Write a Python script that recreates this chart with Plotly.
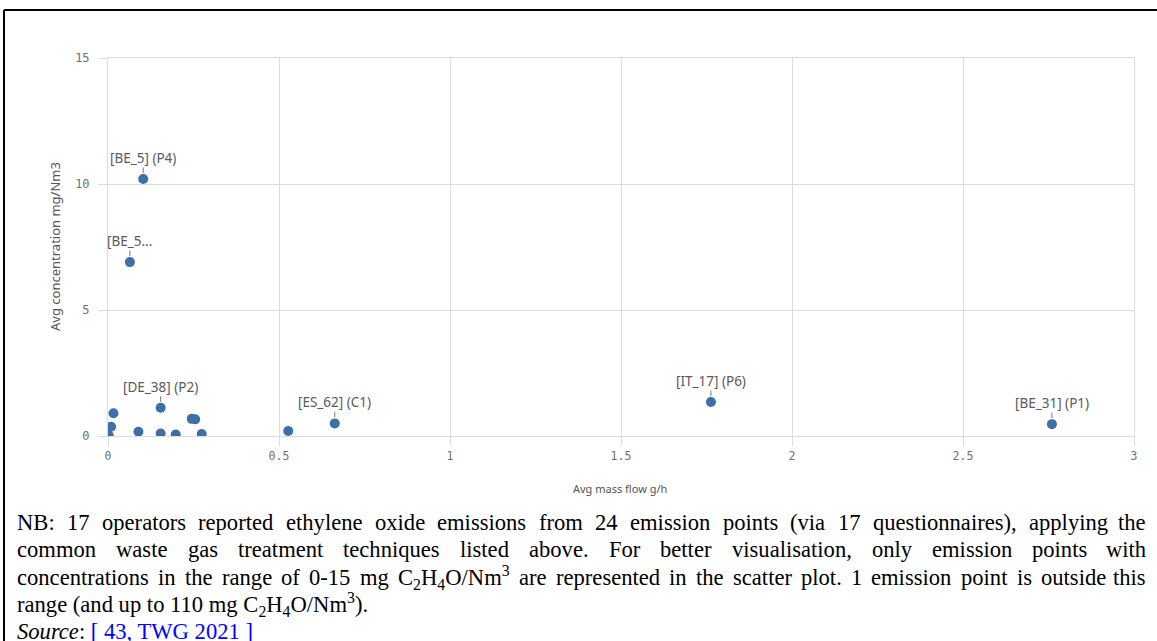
import re
import plotly.graph_objects as go

## ----------- data ----------- ##
MASS_FLOW = [0.103, 0.064, 0.154, 0.663, 1.763, 2.76, 0.016, 0.009, 0.002,
             0.089, 0.154, 0.198, 0.245, 0.255, 0.274, 0.527]
CONCENTRATION = [10.2, 6.9, 1.12, 0.5, 1.35, 0.47, 0.9, 0.37, 0.03,
                 0.17, 0.1, 0.06, 0.68, 0.66, 0.08, 0.2]
POINT_LABELS = ["[BE_5] (P4)", "[BE_5...", "[DE_38] (P2)", "[ES_62] (C1)",
                "[IT_17] (P6)", "[BE_31] (P1)", "", "", "", "", "", "", "", "", "", ""]

X_TICKS = [0, 0.5, 1, 1.5, 2, 2.5, 3]
X_TICK_TEXT = ["0", "0.5", "1", "1.5", "2", "2.5", "3"]
Y_TICKS = [0, 5, 10, 15]

NOTE_LINES = [
    "NB: 17 operators reported ethylene oxide emissions from 24 emission points (via 17 questionnaires), applying the",
    "common waste gas treatment techniques listed above. For better visualisation, only emission points with",
    "concentrations in the range of 0-15 mg C<sub>2</sub>H<sub>4</sub>O/Nm<sup>3</sup> are represented in the scatter plot. 1 emission point is outside this",
    "range (and up to 110 mg C<sub>2</sub>H<sub>4</sub>O/Nm<sup>3</sup>).",
]
SOURCE_TEXT = "<i>Source</i>: <span style='color:#0000ff'>[ 43, TWG 2021 ]</span>"

## ----------- geometry helpers ----------- ##
W, H = 1157, 641
PL, PR, PT, PB = 108, 1134, 58, 436   # plot area in pixels


def px(x):
    return (x - PL) / (PR - PL)


def py(y):
    return (PB - y) / (PB - PT)


# Times New Roman advance widths (per 1000 em)
TNR = {' ': 250, 'a': 444, 'b': 500, 'c': 444, 'd': 500, 'e': 444, 'f': 333, 'g': 500,
       'h': 500, 'i': 278, 'j': 278, 'k': 500, 'l': 278, 'm': 778, 'n': 500, 'o': 500,
       'p': 500, 'q': 500, 'r': 333, 's': 389, 't': 278, 'u': 500, 'v': 500, 'w': 722,
       'x': 500, 'y': 500, 'z': 444, 'B': 667, 'C': 667, 'F': 556, 'H': 722, 'N': 722,
       'O': 722, '.': 250, ',': 250, ':': 278, '(': 333, ')': 333, '-': 333, '/': 278,
       '[': 333, ']': 333}


def text_width(s, size):
    total = 0.0
    for part in re.split(r"(<su[bp]>.*?</su[bp]>)", s):
        scale = 0.7 if part.startswith("<su") else 1.0
        part = re.sub(r"<[^>]+>", "", part)
        total += sum(TNR.get(c, 500) for c in part) * scale
    return total * size / 1000


## ----------- figure ----------- ##
fig = go.Figure()
fig.add_trace(go.Scatter(
    x=MASS_FLOW, y=CONCENTRATION, mode="markers",
    marker=dict(size=10, color="#3d6fa8"),
    hoverinfo="x+y", showlegend=False,
))

annotations = []
for xv, yv, lab in zip(MASS_FLOW, CONCENTRATION, POINT_LABELS):
    if not lab:
        continue
    annotations.append(dict(
        x=xv, y=yv, xref="x", yref="y", text=lab,
        showarrow=True, arrowhead=0, arrowwidth=1, arrowcolor="#777777",
        ax=0, ay=-21, standoff=6,
        font=dict(family="Noto Sans", size=13.5, color="#5a5a5a"),
        borderpad=0,
    ))

# axis titles
annotations.append(dict(
    x=px(44), y=py(247), xref="paper", yref="paper", text="Avg concentration mg/Nm3",
    textangle=-90, showarrow=False, font=dict(family="Noto Sans", size=13, color="#555555"),
))
annotations.append(dict(
    x=px(620), y=py(498), xref="paper", yref="paper", text="Avg mass flow g/h",
    showarrow=False, font=dict(family="Noto Sans", size=11, color="#555555"),
))

# note paragraph, justified word by word
FS = 22.6
LEFT, RIGHT = 16, 1147
LINE_Y = [522, 549.5, 577, 604.5]
for i, line in enumerate(NOTE_LINES):
    y = py(LINE_Y[i])
    words = line.split(" ")
    if i < 3:
        widths = [text_width(w, FS) for w in words]
        gap = (RIGHT - LEFT - sum(widths)) / (len(words) - 1)
        xpos = LEFT
        for j, w in enumerate(words):
            last = j == len(words) - 1
            annotations.append(dict(
                x=px(RIGHT if last else xpos), y=y, xref="paper", yref="paper",
                text=w, showarrow=False, xanchor="right" if last else "left",
                yanchor="middle", borderpad=0,
                font=dict(family="Liberation Serif", size=FS, color="#000000"),
            ))
            xpos += widths[j] + gap
    else:
        annotations.append(dict(
            x=px(LEFT), y=y, xref="paper", yref="paper", text=line,
            showarrow=False, xanchor="left", yanchor="middle", borderpad=0,
            font=dict(family="Liberation Serif", size=FS, color="#000000"),
        ))
annotations.append(dict(
    x=px(LEFT), y=py(631), xref="paper", yref="paper", text=SOURCE_TEXT,
    showarrow=False, xanchor="left", yanchor="middle", borderpad=0,
    font=dict(family="Liberation Serif", size=FS, color="#000000"),
))

# page frame (top and left rules)
shapes = [
    dict(type="line", xref="paper", yref="paper", x0=px(4), x1=px(W + 5),
         y0=py(10), y1=py(10), line=dict(color="black", width=2)),
    dict(type="line", xref="paper", yref="paper", x0=px(4), x1=px(4),
         y0=py(10), y1=py(H + 5), line=dict(color="black", width=2)),
]

GRID = "#dcdcdc"
fig.update_layout(
    width=W, height=H,
    margin=dict(l=PL, r=W - PR, t=PT, b=H - PB, autoexpand=False),
    paper_bgcolor="white", plot_bgcolor="white",
    annotations=annotations, shapes=shapes,
    xaxis=dict(
        range=[0, 3], tickvals=X_TICKS, ticktext=X_TICK_TEXT,
        showgrid=True, gridcolor=GRID, gridwidth=1, zeroline=False,
        showline=True, linecolor=GRID, mirror=True,
        ticks="outside", ticklen=9, tickcolor=GRID,
        tickfont=dict(family="DejaVu Sans Mono", size=11.5, color="#707070"),
        fixedrange=True,
    ),
    yaxis=dict(
        range=[0, 15], tickvals=Y_TICKS,
        showgrid=True, gridcolor=GRID, gridwidth=1, zeroline=False,
        showline=True, linecolor=GRID, mirror=True,
        ticks="outside", ticklen=9, tickcolor=GRID, ticklabelstandoff=6,
        tickfont=dict(family="DejaVu Sans Mono", size=12, color="#707070"),
        fixedrange=True,
    ),
)

fig.write_html("out.html", config={"displayModeBar": False},
               post_script="document.body.style.margin='0';")
